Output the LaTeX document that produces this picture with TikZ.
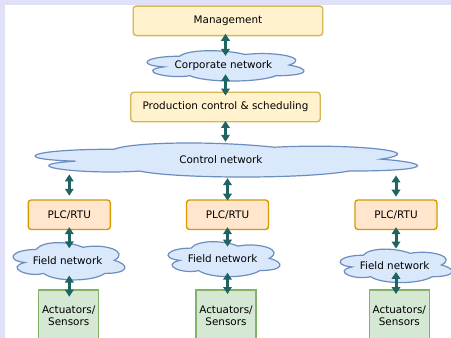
\documentclass[tikz,border=0pt]{standalone}
\usepackage{fontspec}
\setmainfont{DejaVu Sans}
\usetikzlibrary{arrows.meta, positioning}

\definecolor{pagebg}{RGB}{224,224,248}
\definecolor{mgmtfill}{HTML}{FFF2CC}
\definecolor{mgmtline}{HTML}{D6B656}
\definecolor{plcfill}{HTML}{FFE6CC}
\definecolor{plcline}{HTML}{D79B00}
\definecolor{devfill}{HTML}{D5E8D4}
\definecolor{devline}{HTML}{82B366}
\definecolor{netfill}{HTML}{DAE8FC}
\definecolor{netline}{HTML}{6C8EBF}
\definecolor{linkcol}{RGB}{31,99,99}

% cloud outline in a unit box (y pointing down)
\newcommand{\cloudpath}{(0.25,0.25) .. controls (0.05,0.25) and (0,0.5) .. (0.16,0.55)
  .. controls (0,0.66) and (0.18,0.9) .. (0.31,0.8)
  .. controls (0.4,1) and (0.7,1) .. (0.8,0.8)
  .. controls (1,0.8) and (1,0.6) .. (0.875,0.5)
  .. controls (1,0.3) and (0.8,0.1) .. (0.625,0.2)
  .. controls (0.5,0.05) and (0.3,0.05) .. (0.25,0.25) -- cycle}
% name, left, top, width, height, label
\newcommand{\netcloud}[6]{%
  \draw[netshape, shift={(#2,#3)}, xscale=#4, yscale=#5] \cloudpath;
  \node[minimum width=#4pt, minimum height=#5pt, inner sep=0pt, anchor=north west] (#1) at (#2,#3) {#6};
}

\tikzset{
  every node/.style={font=\fontsize{10.4}{12}\selectfont},
  box/.style={draw, rounded corners=3pt, line width=1.4pt, minimum height=29.5pt, align=center},
  mgmt/.style={box, fill=mgmtfill, draw=mgmtline, minimum width=189.5pt},
  plc/.style={box, fill=plcfill, draw=plcline, minimum width=82pt},
  dev/.style={draw=devline, fill=devfill, line width=1.4pt, minimum width=59.5pt, minimum height=51pt, align=center},
  netshape/.style={draw=netline, fill=netfill, line width=1.2pt},
  link/.style={draw=linkcol, line width=3pt, {Triangle[length=7pt,width=8.5pt]}-{Triangle[length=7pt,width=8.5pt]}},
}

\begin{document}
\begin{tikzpicture}[x=1pt,y=-1pt]
% page and sheet
\fill[pagebg] (0,0) rectangle (451,338);
\fill[white] (5,5) rectangle (451,338);
\useasboundingbox (0,0) rectangle (451,338);

% upper levels
\node[mgmt] (mgmt) at (228,20.8) {Management};
\netcloud{corp}{135.6}{47.4}{175.4}{35.4}{Corporate network}
\node[mgmt] (prod) at (225.5,107) {Production control \& scheduling};
\netcloud{ctrl}{7.2}{139.3}{427}{39.7}{Control network}

\draw[link, shorten <=-2.5pt, shorten >=-8.5pt] (prod.north |- mgmt.south) -- (prod.north |- corp.north);
\draw[link, shorten <=-9pt, shorten >=-4pt] (corp.south -| prod.north) -- (prod.north);
\draw[link, shorten <=-1.5pt, shorten >=-2.5pt] (prod.south) -- (prod.south |- ctrl.north);

% three field cells
\foreach \n/\x/\fx/\fy/\fh/\dx in {a/69.3/4.9/238.6/43.5/68.7, b/227.5/159.9/237.9/40.8/226, c/396/332/245.5/39/399.3} {
  \node[plc] (plc\n) at (\x,214.7) {PLC/RTU};
  \netcloud{field\n}{\fx}{\fy}{125}{\fh}{Field network}
  \node[dev, anchor=north] (dev\n) at (\dx,289.3) {Actuators/\\Sensors};
}

% links: control net -> plc -> field net -> devices
\foreach \n/\ca/\cb/\pf/\fa/\fb in {a/-5/3.5/-9.7/-7/-7.4, b/-1.3/-1.4/-8.8/-6.4/-4.7, c/-4/2.6/-3/-13/-4.7} {
  \draw[link, shorten <=\ca pt, shorten >=\cb pt] (ctrl.south -| plc\n.north) -- (plc\n.north);
  \draw[link, shorten <=-3pt, shorten >=\pf pt] (plc\n.south) -- (plc\n.south |- field\n.north);
  \draw[link, shorten <=\fa pt, shorten >=\fb pt] (plc\n.south |- field\n.south) -- (plc\n.south |- dev\n.north);
}
\end{tikzpicture}
\end{document}
